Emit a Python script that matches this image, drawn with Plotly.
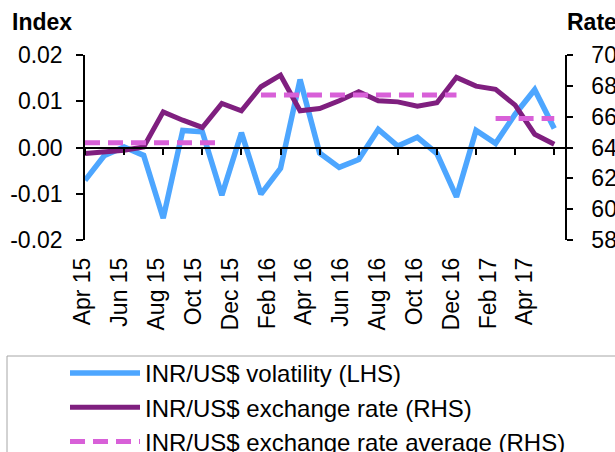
import plotly.graph_objects as go

# ---------------- data ----------------
months = ["Apr 15", "May 15", "Jun 15", "Jul 15", "Aug 15", "Sep 15", "Oct 15",
          "Nov 15", "Dec 15", "Jan 16", "Feb 16", "Mar 16", "Apr 16", "May 16",
          "Jun 16", "Jul 16", "Aug 16", "Sep 16", "Oct 16", "Nov 16", "Dec 16",
          "Jan 17", "Feb 17", "Mar 17", "Apr 17"]

volatility = [-0.0071, -0.0017, 0.0001, -0.0017, -0.0153, 0.0037, 0.0034,
              -0.0103, 0.0032, -0.0101, -0.0045, 0.0147, -0.0012, -0.0043,
              -0.0026, 0.0039, 0.0003, 0.0022, -0.0013, -0.0107, 0.0037,
              0.0009, 0.0072, 0.0125, 0.0041]

rate = [63.61, 63.70, 63.82, 64.04, 66.31, 65.77, 65.30, 66.86, 66.38, 67.94,
        68.69, 66.38, 66.53, 67.03, 67.61, 67.03, 66.96, 66.68, 66.90, 68.55,
        67.98, 67.77, 66.75, 64.86, 64.21]

rate_avg = [64.3, 64.3, 64.3, 64.3, 64.3, 64.3, 64.3, 64.3, None, 67.4,
            67.4, 67.4, 67.4, 67.4, 67.4, 67.4, 67.4, 67.4, 67.4, 67.4,
            None, 65.88, 65.88, 65.88, 65.88]

tick_labels = ["Apr 15", "Jun 15", "Aug 15", "Oct 15", "Dec 15", "Feb 16",
               "Apr 16", "Jun 16", "Aug 16", "Oct 16", "Dec 16", "Feb 17", "Apr 17"]
left_ticks = [-0.02, -0.01, 0.0, 0.01, 0.02]
left_tick_text = ["-0.02", "-0.01", "0.00", "0.01", "0.02"]
right_ticks = [58, 60, 62, 64, 66, 68, 70]

series_names = ["INR/US$ volatility (LHS)", "INR/US$ exchange rate (RHS)",
                "INR/US$ exchange rate average (RHS)"]

# ---------------- layout helpers ----------------
W, H = 615, 452
PL = 80            # paper left (label axis start)
L, R, T, B = 85, 565, 55, 240   # plot area of the data axes
FONT = "Arial, Liberation Sans, sans-serif"
FS = 23
LFS = 24


def px_x(p):
    return (p - PL) / (R - PL)


def px_y(p):
    return (B - p) / (B - T)


x = list(range(len(months)))
tick_pos = [months.index(m) for m in tick_labels]

BLUE = "#4da6ff"
PURPLE = "#7f1f7f"
PINK = "#d860d8"

fig = go.Figure()
fig.add_trace(go.Scatter(x=x, y=volatility, name=series_names[0], mode="lines",
                         line=dict(color=BLUE, width=5.5), xaxis="x2", yaxis="y",
                         legendgroup="a", legendrank=1))
fig.add_trace(go.Scatter(x=x, y=rate, name=series_names[1], mode="lines",
                         line=dict(color=PURPLE, width=5), xaxis="x2", yaxis="y2",
                         legendgroup="b", legendrank=2))
fig.add_trace(go.Scatter(x=x, y=rate_avg, name=series_names[2], mode="lines",
                         line=dict(color=PINK, width=5, dash="15px,8px"),
                         xaxis="x2", yaxis="y2", connectgaps=False,
                         legendgroup="c", legendrank=3))
# invisible trace so the label axis exists
fig.add_trace(go.Scatter(x=[tick_pos[0]], y=[0], mode="lines", showlegend=False,
                         hoverinfo="skip", xaxis="x", yaxis="y",
                         line=dict(color="rgba(0,0,0,0)")))

axis_common = dict(showgrid=False, zeroline=False, color="black", automargin=False,
                   tickfont=dict(family=FONT, size=FS, color="black"))

fig.update_layout(
    width=W, height=H,
    margin=dict(l=PL, r=W - R, t=T, b=H - B, pad=0, autoexpand=False),
    paper_bgcolor="white", plot_bgcolor="white",
    font=dict(family=FONT, size=FS, color="black"),
    xaxis=dict(domain=[0, 1], range=[-0.163, 26.17], tickvals=tick_pos,
               ticktext=tick_labels, tickangle=-90, showline=False, ticks="",
               ticklabelstandoff=12, **axis_common),
    xaxis2=dict(domain=[(L - PL) / (R - PL), 1], anchor="free", position=0.5,
                range=[0, 24.55], tickvals=tick_pos, showticklabels=False,
                ticks="outside", ticklen=7, tickwidth=1.5, tickcolor="black",
                showline=True, linecolor="black", linewidth=1.5, **axis_common),
    yaxis=dict(anchor="x2", range=[-0.02, 0.02], tickvals=left_ticks,
               ticktext=left_tick_text, ticks="outside", ticklen=7, tickwidth=1.5,
               tickcolor="black", showline=True, linecolor="black", linewidth=1.5,
               ticklabelstandoff=9, **axis_common),
    yaxis2=dict(overlaying="y", side="right", anchor="x2", range=[58, 70],
                tickvals=right_ticks, ticks="outside", ticklen=6, tickwidth=1.5,
                tickcolor="black", showline=True, linecolor="black",
                linewidth=1.5, ticklabelstandoff=14, **axis_common),
    legend=dict(x=px_x(65), y=px_y(351), xanchor="left", yanchor="top",
                orientation="v", itemwidth=70, bgcolor="rgba(0,0,0,0)",
                borderwidth=0, tracegroupgap=0,
                font=dict(family=FONT, size=LFS, color="black")),
    showlegend=True,
    annotations=[
        dict(text="<b>Index</b>", xref="paper", yref="paper", x=px_x(10),
             y=px_y(22), xanchor="left", yanchor="middle", showarrow=False,
             font=dict(family=FONT, size=FS, color="black")),
        dict(text="<b>Rate</b>", xref="paper", yref="paper", x=px_x(565),
             y=px_y(22), xanchor="left", yanchor="middle", showarrow=False,
             font=dict(family=FONT, size=FS, color="black")),
    ],
    shapes=[
        dict(type="rect", xref="paper", yref="paper", x0=px_x(7), x1=px_x(640),
             y0=px_y(356), y1=px_y(480), line=dict(color="#a6a6a6", width=1),
             fillcolor="rgba(0,0,0,0)", layer="below"),
    ],
)

fig.write_html("out.html",
               config={"displayModeBar": False},
               post_script="document.body.style.margin='0px';"
                           "document.body.style.overflow='hidden';")
